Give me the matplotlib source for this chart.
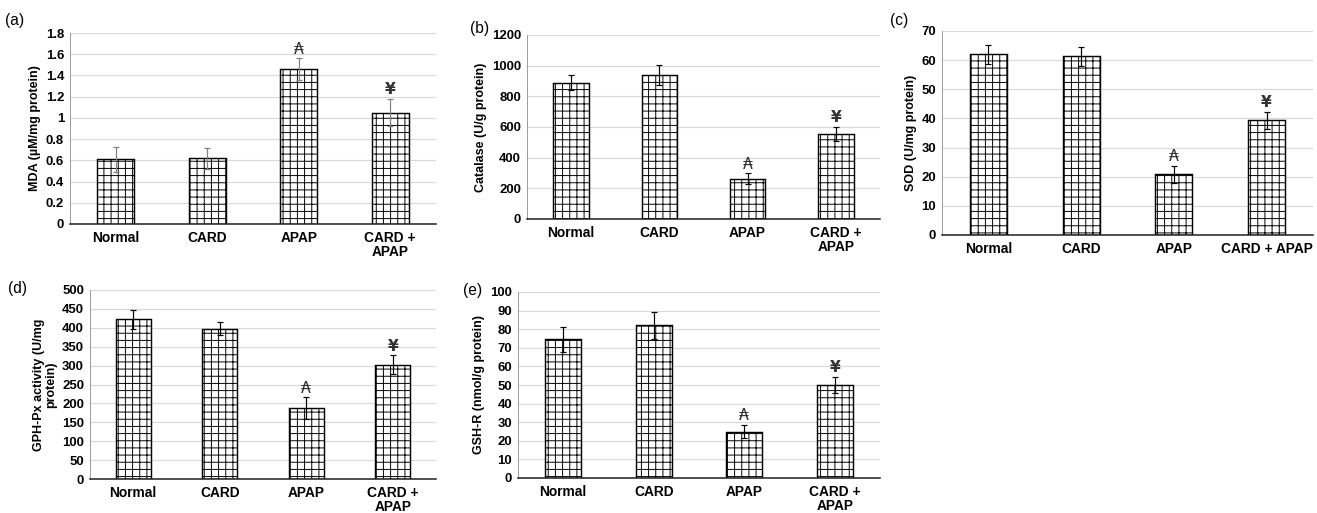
import numpy as np
import matplotlib.pyplot as plt

plt.rcParams['font.family'] = ['Liberation Sans', 'DejaVu Sans']
plt.rcParams['hatch.linewidth'] = 0.8

groups = ["Normal", "CARD", "APAP", "CARD +\nAPAP"]
groups_c = ["Normal", "CARD", "APAP", "CARD + APAP"]

mda = [0.61, 0.62, 1.46, 1.05]
mda_err = [0.12, 0.10, 0.10, 0.13]

catalase = [890, 940, 262, 555]
catalase_err = [50, 65, 35, 48]

sod = [62.0, 61.3, 20.8, 39.3]
sod_err = [3.3, 3.3, 2.8, 3.0]

gpx = [422, 398, 188, 302]
gpx_err = [25, 18, 28, 25]

gshr = [74.5, 82.0, 25.0, 50.0]
gshr_err = [6.5, 7.0, 3.5, 4.5]

W, H = 1317, 513
DPI = 86


def px_axes(fig, left, right, top, bottom):
    return fig.add_axes([left / W, 1 - bottom / H, (right - left) / W, (bottom - top) / H])


def draw_panel(ax, vals, errs, labels, ylim, yticks, ylabel, tag, tag_xy, fig,
               err_color="black", fmt=None):
    x = np.arange(len(vals))
    ax.bar(x, vals, 0.4, color="white", edgecolor="black", hatch="++",
           linewidth=1.2, zorder=2)
    ax.errorbar(x, vals, yerr=errs, fmt="none", ecolor=err_color,
                elinewidth=1.0, capsize=2.5, capthick=1.0, zorder=3)
    ax.set_xlim(-0.5, 3.5)
    ax.set_ylim(*ylim)
    ax.set_yticks(yticks)
    if fmt:
        ax.set_yticklabels([fmt(v) for v in yticks])
    ax.set_xticks(x)
    ax.set_xticklabels(labels, fontweight="bold", fontsize=11.5, linespacing=1.0)
    for t in ax.get_yticklabels():
        t.set_fontweight("bold")
        t.set_fontsize(11)
    ax.tick_params(length=0, pad=6)
    ax.tick_params(axis="y", pad=5)
    ax.grid(axis="y", color="#d9d9d9", linewidth=1.0, zorder=0)
    ax.set_axisbelow(True)
    for s in ["top", "right"]:
        ax.spines[s].set_visible(False)
    ax.spines["left"].set_color("#9a9a9a")
    ax.spines["left"].set_linewidth(0.8)
    ax.spines["bottom"].set_color("#222222")
    ax.spines["bottom"].set_linewidth(1.3)
    ax.set_ylabel(ylabel, fontweight="bold", fontsize=10.5, linespacing=1.0)
    # significance marks
    ax.annotate("\u20b3", (2, vals[2] + errs[2]), xytext=(0, 1.5), textcoords="offset points",
                ha="center", va="bottom", fontsize=13, family=["DejaVu Sans"], color="#333333")
    ax.annotate("\u00a5", (3, vals[3] + errs[3]), xytext=(0, 1.5), textcoords="offset points",
                ha="center", va="bottom", fontsize=13, family=["DejaVu Sans"], color="#333333",
                fontweight="bold")
    fig.text(tag_xy[0] / W, 1 - tag_xy[1] / H, tag, fontsize=13, ha="left", va="center")


fig = plt.figure(figsize=(W / DPI, H / DPI), dpi=DPI)

ax_a = px_axes(fig, 70, 436, 33, 224)
draw_panel(ax_a, mda, mda_err, groups, (0, 1.8), np.arange(0, 1.81, 0.2),
           "MDA (\u00b5M/mg protein)", "(a)", (5, 20), fig, err_color="#808080",
           fmt=lambda v: f"{round(v, 1):g}")

ax_b = px_axes(fig, 527, 880, 35, 219)
draw_panel(ax_b, catalase, catalase_err, groups, (0, 1200), np.arange(0, 1201, 200),
           "Catalase (U/g protein)", "(b)", (470, 28), fig)

ax_c = px_axes(fig, 942, 1313, 31, 235)
draw_panel(ax_c, sod, sod_err, groups_c, (0, 70), np.arange(0, 71, 10),
           "SOD (U/mg protein)", "(c)", (890, 21), fig)

ax_d = px_axes(fig, 90, 436, 290, 479)
draw_panel(ax_d, gpx, gpx_err, groups, (0, 500), np.arange(0, 501, 50),
           "GPH-Px activity (U/mg\nprotein)", "(d)", (8, 288), fig)

ax_e = px_axes(fig, 518, 880, 292, 478)
draw_panel(ax_e, gshr, gshr_err, groups, (0, 100), np.arange(0, 101, 10),
           "GSH-R (nmol/g protein)", "(e)", (463, 290), fig)

fig.savefig("out.png", dpi=DPI)
